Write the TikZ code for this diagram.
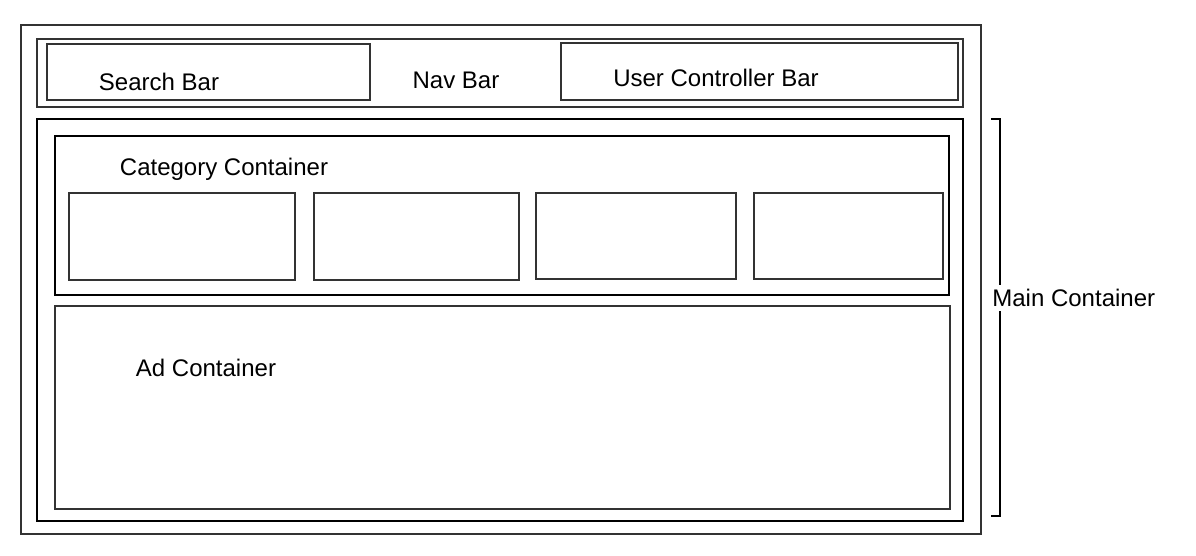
\documentclass[tikz,border=0pt]{standalone}
\usepackage{fontspec}
\setmainfont{Liberation Sans}

\begin{document}
\begin{tikzpicture}[x=0.5pt,y=-0.5pt,
  box/.style={draw=black!80, line width=0.6pt},
  label/.style={font=\fontsize{12}{14}\selectfont, inner sep=2pt}]
\useasboundingbox (0,0) rectangle (1196,556);

\draw[box] (21,25) rectangle (981,534);
\draw[box] (37,39) rectangle (963,107);
\draw[box] (47,44) rectangle (370,100);
\draw[box] (561,43) rectangle (958,100);
\node[label] (search) at (159,82) {Search Bar};
\node[label] (nav) at (456,80) {Nav Bar};
\node[label] (user) at (716,78) {User Controller Bar};

\draw[box, draw=black, line width=0.7pt] (37,119) rectangle (963,521);
\draw[box, draw=black, line width=0.7pt] (55,136) rectangle (949,295);
\node[label] (cat) at (224,169) {Category Container};
\draw[box] (69,193) rectangle (295,280);
\draw[box] (314,193) rectangle (519,280);
\draw[box] (536,193) rectangle (736,279);
\draw[box] (754,193) rectangle (943,279);

\draw[box] (55,306) rectangle (950,509);
\node[label] (ad) at (206,368) {Ad Container};

% bracket for the main container
\node[label, anchor=west] (main) at (988,298) {Main Container};
\coordinate (mtop) at (991,119);
\coordinate (mbot) at (991,516);
\draw[black, line width=0.7pt] (mtop) -- ++(9,0) |- (main.north -| 1000,0);
\draw[black, line width=0.7pt] (mbot) -- ++(9,0) -- (main.south -| 1000,0);
\end{tikzpicture}
\end{document}
